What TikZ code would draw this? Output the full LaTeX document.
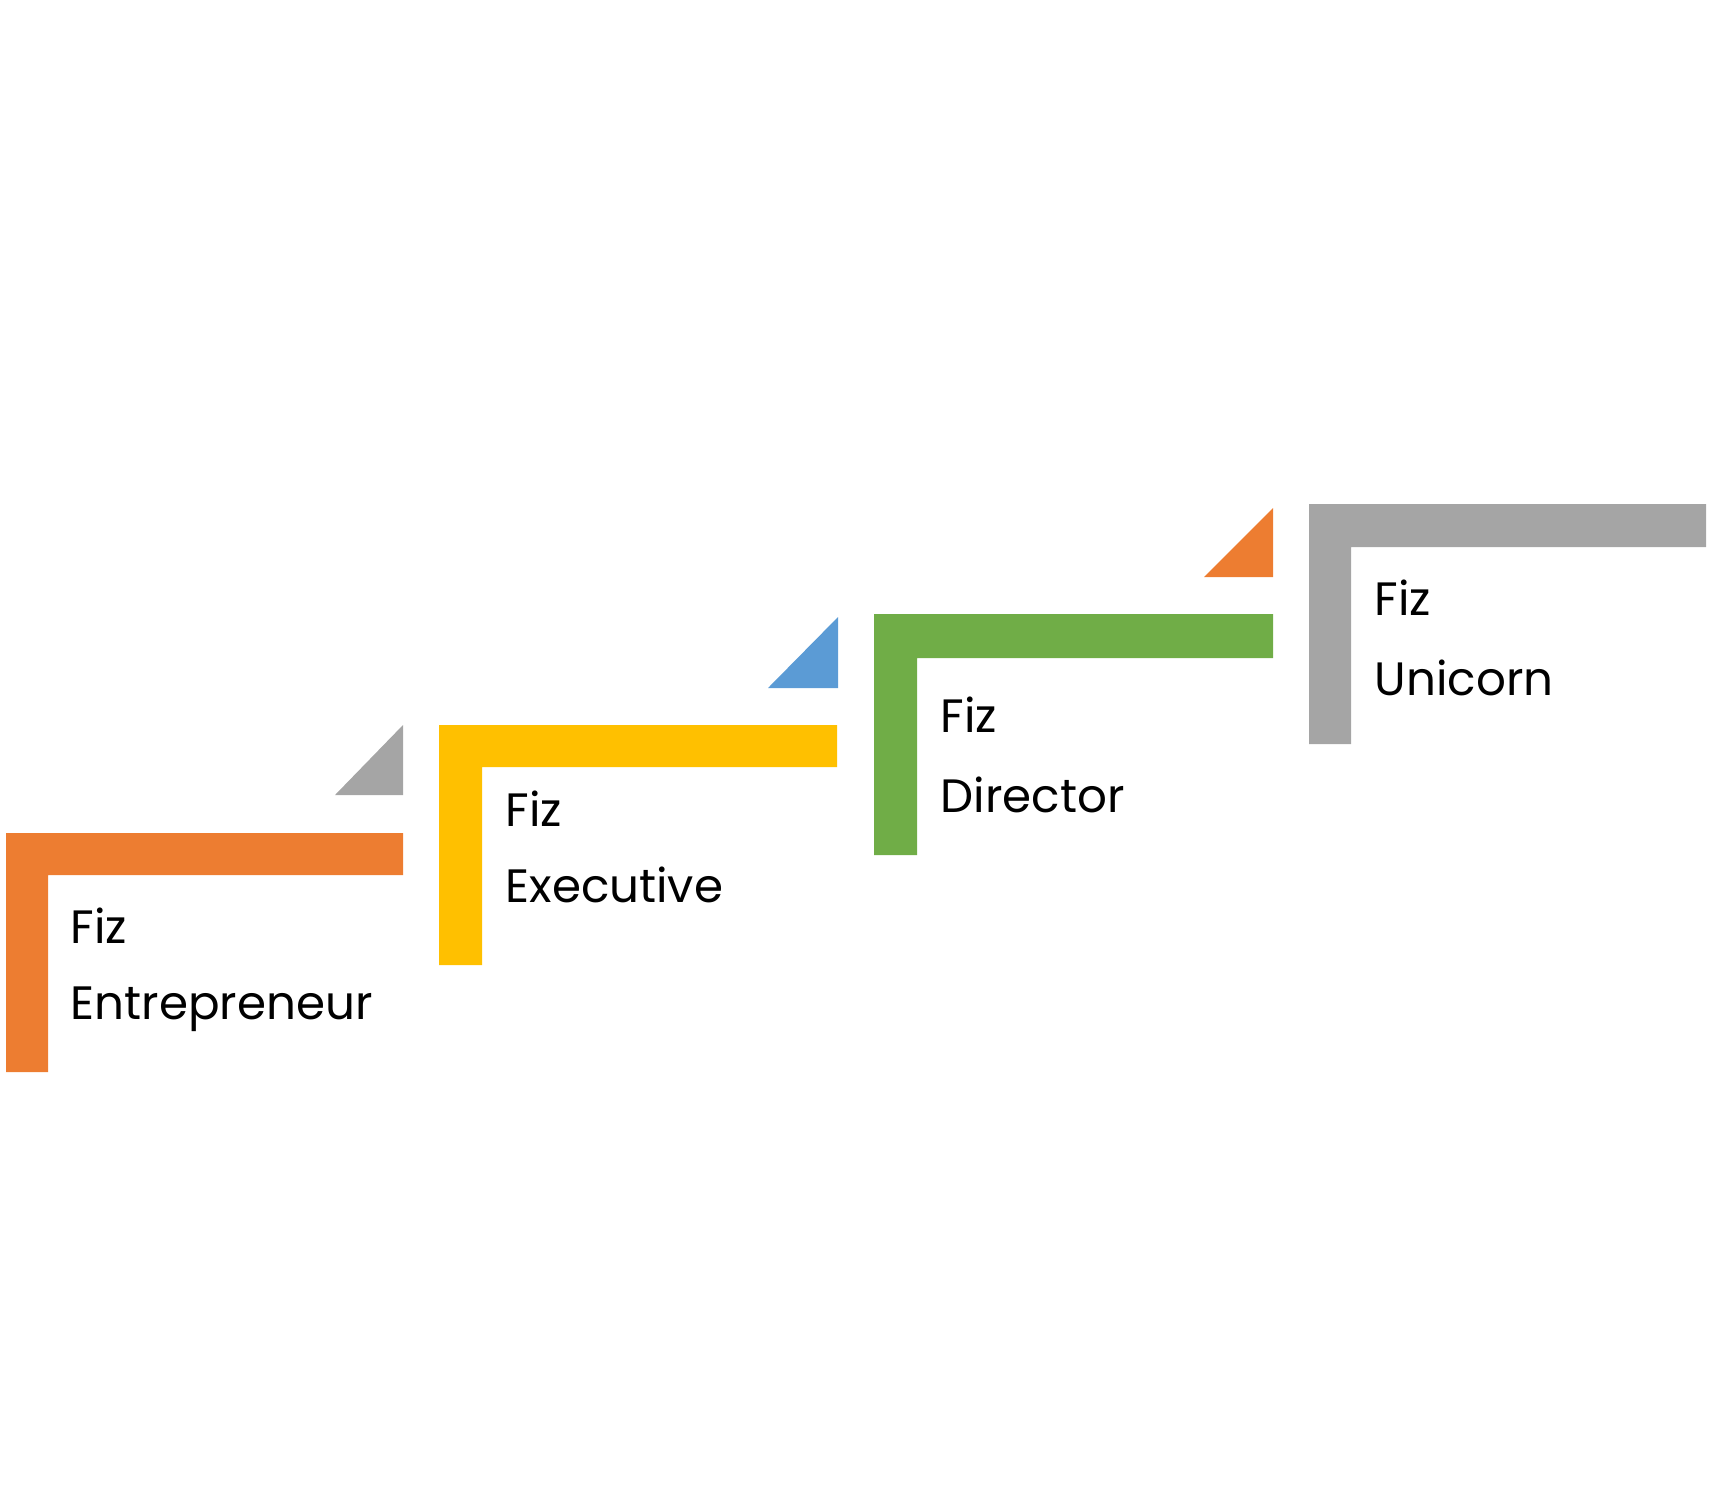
\documentclass[tikz,border=0pt]{standalone}
\usepackage{fontspec}
\setmainfont{Poppins}
\definecolor{stepOrange}{HTML}{ED7D31}
\definecolor{stepYellow}{HTML}{FFC000}
\definecolor{stepGreen}{HTML}{70AD47}
\definecolor{stepGray}{HTML}{A5A5A5}
\definecolor{stepBlue}{HTML}{5B9BD5}
\tikzset{
    steplabel/.style={anchor=base west, inner sep=0pt, font=\fontsize{13.3}{15}\selectfont}
}
\begin{document}
\begin{tikzpicture}[x=0.01cm, y=-0.01cm]
        \useasboundingbox (0, 0) rectangle (1710, 1509);

        % Step 1
        \fill[stepOrange] (6, 833) -- (403, 833) -- (403, 875) -- (48, 875) -- (48, 1072) -- (6, 1072) -- cycle;
        \fill[stepGray] (335, 795) -- (403, 725) -- (403, 795) -- cycle;
        \node[steplabel] (fiz1) at (70, 943) {Fiz};
        \node[steplabel] (role1) at (70, 1019) {Entrepreneur};

        % Step 2
        \fill[stepYellow] (439, 725) -- (837, 725) -- (837, 767) -- (482, 767) -- (482, 965) -- (439, 965) -- cycle;
        \fill[stepBlue] (768, 688) -- (838, 617) -- (838, 688) -- cycle;
        \node[steplabel] (fiz2) at (505, 826) {Fiz};
        \node[steplabel] (role2) at (505, 902) {Executive};

        % Step 3
        \fill[stepGreen] (874, 614) -- (1273, 614) -- (1273, 658) -- (917, 658) -- (917, 855) -- (874, 855) -- cycle;
        \fill[stepOrange] (1204, 577) -- (1273, 508) -- (1273, 577) -- cycle;
        \node[steplabel] (fiz3) at (940, 732) {Fiz};
        \node[steplabel] (role3) at (940, 812) {Director};

        % Step 4
        \fill[stepGray] (1309, 504) -- (1706, 504) -- (1706, 547) -- (1351, 547) -- (1351, 744) -- (1309, 744) -- cycle;
        \node[steplabel] (fiz4) at (1374, 615) {Fiz};
        \node[steplabel] (role4) at (1374, 695) {Unicorn};

    \end{tikzpicture}
\end{document}
